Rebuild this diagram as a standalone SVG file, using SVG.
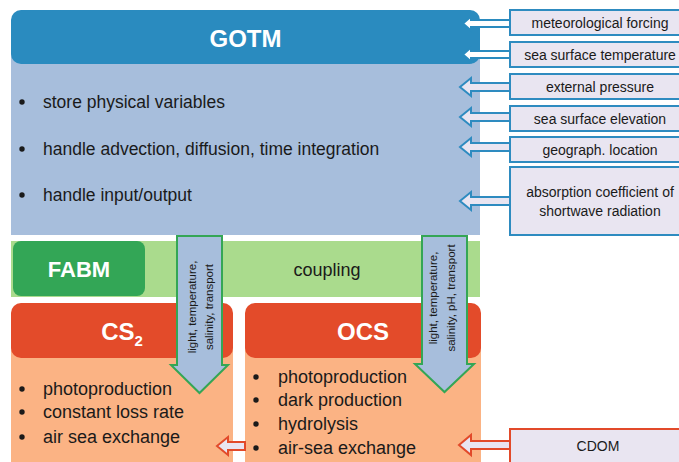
<svg xmlns="http://www.w3.org/2000/svg" width="679" height="462" viewBox="0 0 679 462">
<style>
text{font-family:"Liberation Sans",Arial,sans-serif;fill:#1a1a1a}
.hd{font-weight:bold;fill:#ffffff;text-anchor:middle}
.bl{font-size:17.5px}
.bs{font-size:18px}
.ib{fill:#e9e5f1;stroke:#2e8bc0;stroke-width:2}
.it{font-size:14px;text-anchor:middle}
.ba{fill:#e9e5f1;stroke:#2e8bc0;stroke-width:2;stroke-linejoin:miter}
.wa{fill:#ffffff;stroke:#2a8bbf;stroke-width:2}
.ra{fill:#e9e5f1;stroke:#e24a2a;stroke-width:2}
.va{fill:#a7bedc;stroke:#34a655;stroke-width:2}
.vt{font-size:11.5px;text-anchor:middle}
</style>
<g id="gotm">
<rect x="11" y="40" width="469" height="195" fill="#a7bedc"/>
<rect x="11" y="10" width="469" height="54" rx="10" fill="#2a8bbf"/>
<text class="hd" x="245.5" y="47" font-size="24">GOTM</text>
<circle cx="22" cy="102" r="2.7" fill="#1a1a1a"/>
<text class="bl" x="43" y="108">store physical variables</text>
<circle cx="22" cy="149" r="2.7" fill="#1a1a1a"/>
<text class="bl" x="43" y="155">handle advection, diffusion, time integration</text>
<circle cx="22" cy="195" r="2.7" fill="#1a1a1a"/>
<text class="bl" x="43" y="201">handle input/output</text>
</g>
<g id="fabm">
<rect x="11" y="241" width="469" height="56" fill="#aadb8d"/>
<rect x="13" y="241" width="132" height="55" rx="8" fill="#33a656"/>
<text class="hd" x="79" y="277" font-size="22">FABM</text>
<text x="327" y="276" font-size="18" text-anchor="middle">coupling</text>
</g>
<g id="cs2">
<rect x="11" y="340" width="222" height="122" fill="#fbb384"/>
<rect x="11" y="303" width="222" height="55" rx="10" fill="#e34b2a"/>
<text class="hd" x="122" y="340" font-size="24">CS<tspan font-size="15" dy="6">2</tspan></text>
<circle cx="22" cy="389" r="2.7" fill="#1a1a1a"/>
<text class="bs" x="43" y="395">photoproduction</text>
<circle cx="22" cy="412" r="2.7" fill="#1a1a1a"/>
<text class="bs" x="43" y="418">constant loss rate</text>
<circle cx="22" cy="437" r="2.7" fill="#1a1a1a"/>
<text class="bs" x="43" y="443">air sea exchange</text>
</g>
<g id="ocs">
<rect x="245" y="340" width="236" height="122" fill="#fbb384"/>
<rect x="245" y="303" width="236" height="55" rx="10" fill="#e34b2a"/>
<text class="hd" x="363" y="340" font-size="24">OCS</text>
<circle cx="256" cy="377" r="2.7" fill="#1a1a1a"/>
<text class="bs" x="278" y="383">photoproduction</text>
<circle cx="256" cy="400" r="2.7" fill="#1a1a1a"/>
<text class="bs" x="278" y="406">dark production</text>
<circle cx="256" cy="424" r="2.7" fill="#1a1a1a"/>
<text class="bs" x="278" y="430">hydrolysis</text>
<circle cx="256" cy="448" r="2.7" fill="#1a1a1a"/>
<text class="bs" x="278" y="454">air-sea exchange</text>
</g>
<g id="connectors">
<path class="wa" d="M463,23.5 L471,16.5 L471,20 L510,20 L510,27 L471,27 L471,30.5 Z"/>
<path class="wa" d="M463,54.5 L471,47.5 L471,51 L510,51 L510,58 L471,58 L471,61.5 Z"/>
<path class="ba" d="M460,87 L471,78 L471,83 L510,83 L510,91 L471,91 L471,96 Z"/>
<path class="ba" d="M460,117 L471,108 L471,113 L510,113 L510,121 L471,121 L471,126 Z"/>
<path class="ba" d="M460,147 L471,138 L471,143 L510,143 L510,151 L471,151 L471,156 Z"/>
<path class="ba" d="M460,201 L471,192 L471,197 L510,197 L510,205 L471,205 L471,210 Z"/>
<path class="ra" d="M459,445 L471,435 L471,441 L510,441 L510,449 L471,449 L471,455 Z"/>
<path class="ra" d="M217,446 L228,437 L228,442 L245,442 L245,450 L228,450 L228,455 Z"/>
</g>
<g id="flow-cs2">
<path class="va" d="M177,236 L222,236 L222,365 L228,365 L199.5,393 L171,365 L177,365 Z"/>
<text class="vt" transform="translate(196,307) rotate(-90)">light, temperature,</text>
<text class="vt" transform="translate(213,307) rotate(-90)">salinity, transport</text>
</g>
<g id="flow-ocs">
<path class="va" d="M422,236 L467,236 L467,364 L474,364 L444.5,392 L415,364 L422,364 Z"/>
<text class="vt" transform="translate(437,298) rotate(-90)">light, temperature,</text>
<text class="vt" transform="translate(455,298) rotate(-90)">salinity, pH, transport</text>
</g>
<g id="in-met"><rect class="ib" x="510" y="10" width="180" height="25"/><text class="it" x="600" y="27.5">meteorological forcing</text></g>
<g id="in-sst"><rect class="ib" x="510" y="42" width="180" height="25"/><text class="it" x="600" y="59.5">sea surface temperature</text></g>
<g id="in-pres"><rect class="ib" x="510" y="74" width="180" height="25"/><text class="it" x="600" y="91.5">external pressure</text></g>
<g id="in-sse"><rect class="ib" x="510" y="106" width="180" height="25"/><text class="it" x="600" y="123.5">sea surface elevation</text></g>
<g id="in-loc"><rect class="ib" x="510" y="137" width="180" height="25"/><text class="it" x="600" y="154.5">geograph. location</text></g>
<g id="in-abs"><rect class="ib" x="510" y="167" width="180" height="68"/><text class="it" x="600" y="197">absorption coefficient of</text><text class="it" x="600" y="216">shortwave radiation</text></g>
<g id="in-cdom"><rect x="510" y="429" width="180" height="40" fill="#e9e5f1" stroke="#e24a2a" stroke-width="2"/><text class="it" x="598" y="451">CDOM</text></g>
</svg>
